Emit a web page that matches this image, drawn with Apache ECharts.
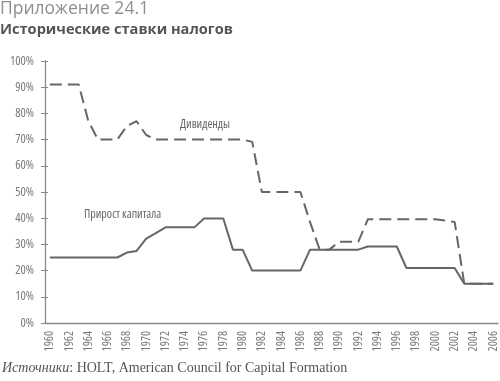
<!DOCTYPE html>
<html>
<head>
<meta charset="utf-8">
<script src="https://cdn.jsdelivr.net/npm/echarts@6/dist/echarts.min.js"></script>
<style>
html,body{margin:0;padding:0;background:#fff;}
#chart{width:500px;height:381px;}
</style>
</head>
<body>
<div id="chart"></div>
<script>
const years = [];
for (let y = 1960; y <= 2006; y++) years.push(String(y));

const dividends = [
  91, 91, 91, 91, 77, 70, 70, 70, 75.25, 77,
  71.75, 70, 70, 70, 70, 70, 70, 70, 70, 70,
  70, 69.13, 50, 50, 50, 50, 50, 38.5, 28, 28,
  31, 31, 31, 39.6, 39.6, 39.6, 39.6, 39.6, 39.6, 39.6,
  39.6, 39.1, 38.6, 15, 15, 15, 15
];
const capitalGains = [
  25, 25, 25, 25, 25, 25, 25, 25, 26.9, 27.5,
  32.2, 34.3, 36.5, 36.5, 36.5, 36.5, 39.9, 39.9, 39.9, 28,
  28, 20, 20, 20, 20, 20, 20, 28, 28, 28,
  28, 28, 28, 29.2, 29.2, 29.2, 29.2, 21, 21, 21,
  21, 21, 21, 15, 15, 15, 15
];
const yTicks = [0, 10, 20, 30, 40, 50, 60, 70, 80, 90, 100];

const titleTop = 'Приложение 24.1';
const titleMain = 'Исторические ставки налогов';
const labelDiv = 'Дивиденды';
const labelCap = 'Прирост капитала';

const condFamily = '"Open Sans"';
const gray = '#666';
const axisGray = '#8a8a8a';
const labelGray = '#7a7a7a';

const chart = echarts.init(document.getElementById('chart'));
chart.setOption({
  animation: false,
  backgroundColor: '#fff',
  grid: { left: 45, right: 2, top: 61, bottom: 58 },
  xAxis: {
    type: 'category',
    data: years,
    boundaryGap: true,
    axisLine: { lineStyle: { color: axisGray, width: 1.3 } },
    axisTick: { interval: 0, length: 3, lineStyle: { color: axisGray } },
    axisLabel: {
      interval: 1, rotate: 90, color: labelGray, fontSize: 12,
      fontFamily: condFamily, fontWeight: 'condensed', margin: 8
    },
    splitLine: { show: false }
  },
  yAxis: [{
    type: 'value',
    min: yTicks[0], max: yTicks[yTicks.length - 1], interval: 10,
    axisLine: { show: true, lineStyle: { color: axisGray, width: 1.3 } },
    axisTick: { show: true, length: 4, lineStyle: { color: axisGray } },
    axisLabel: { color: labelGray, fontSize: 12.5, fontFamily: condFamily, fontWeight: 'condensed',
      margin: 11, formatter: v => v + '%' },
    splitLine: { show: false }
  }, {
    type: 'value', position: 'left',
    min: yTicks[0], max: yTicks[yTicks.length - 1], interval: 10,
    axisLine: { show: false },
    axisTick: { show: true, inside: true, length: 3, lineStyle: { color: axisGray } },
    axisLabel: { show: false },
    splitLine: { show: false }
  }],
  series: [{
    name: labelDiv,
    type: 'line',
    data: dividends,
    symbol: 'none',
    lineStyle: { color: gray, width: 2, type: [12, 6] }
  }, {
    name: labelCap,
    type: 'line',
    data: capitalGains,
    symbol: 'none',
    lineStyle: { color: gray, width: 2 }
  }],
  graphic: [
    { type: 'text', left: 0, top: 0,
      style: { text: titleTop, fill: '#8f8f8f', font: '400 17.5px "Open Sans",sans-serif' } },
    { type: 'text', left: 0, top: 22,
      style: { text: titleMain, fill: '#555', font: 'bold 14.6px "Open Sans",sans-serif' } },
    { type: 'text', left: 180, top: 119,
      style: { text: labelDiv, fill: gray, font: 'normal condensed 12px ' + condFamily } },
    { type: 'text', left: 84, top: 209,
      style: { text: labelCap, fill: gray, font: 'normal condensed 12px ' + condFamily } },
    { type: 'text', left: 2, top: 361,
      style: {
        text: '{i|Источники}{n|: HOLT, American Council for Capital Formation}',
        rich: {
          i: { fontFamily: '"Liberation Serif","DejaVu Serif",serif', fontStyle: 'italic', fontSize: 14, fill: '#555' },
          n: { fontFamily: '"Liberation Serif","DejaVu Serif",serif', fontSize: 14, fill: '#555' }
        }
      } }
  ]
});
</script>
</body>
</html>
